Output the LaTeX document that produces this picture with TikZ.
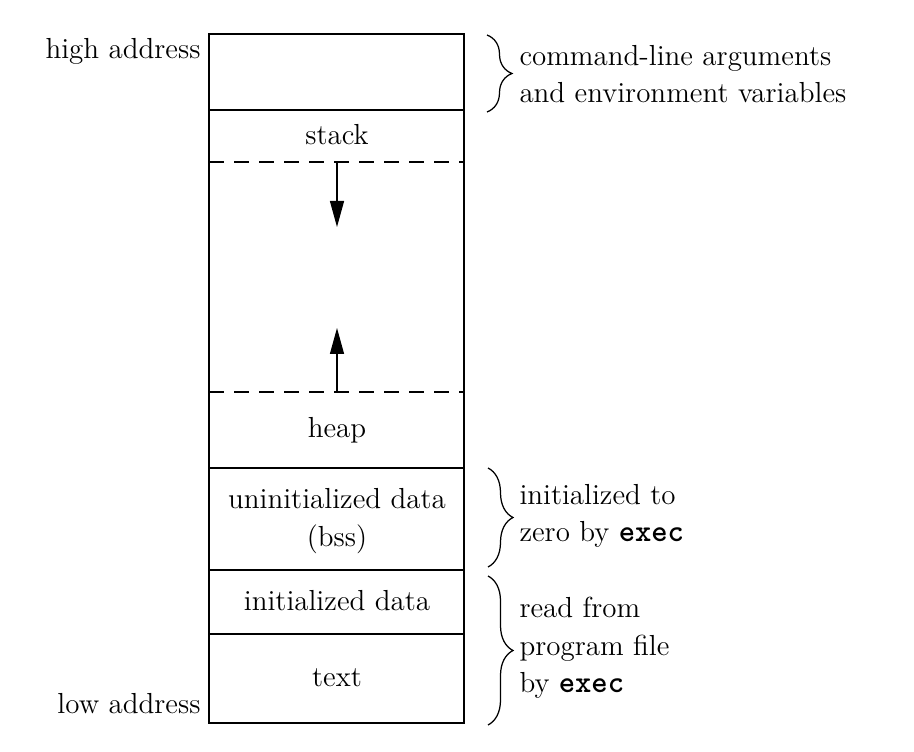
\documentclass[tikz,border=0pt]{standalone}
\usepackage{fontspec}
\newcommand\exe[1]{{\fontsize{12.4}{15}\ttfamily\bfseries #1}}
\usetikzlibrary{arrows.meta,decorations.pathreplacing}
\begin{document}
\begin{tikzpicture}[x=0.4pt,y=-0.4pt,
  every node/.style={font=\fontsize{11.6}{15}\selectfont, inner sep=0pt},
  frame/.style={line width=0.5pt},
  sepline/.style={line width=0.5pt, dash pattern=on 6pt off 4pt},
  growarrow/.style={line width=0.5pt, -{Triangle[length=10.4pt,width=5.6pt]}},
  brc/.style={decorate, decoration={brace, amplitude=10pt}, line width=0.5pt},
  seg/.style={align=center},
  note/.style={align=left, anchor=west},
  addr/.style={anchor=base east}]
\useasboundingbox (0,0) rectangle (914,752);
% frame and separators
\draw[frame] (209,34) rectangle (464,723);
\draw[frame] (209,110) -- (464,110);
\draw[frame] (209,468) -- (464,468);
\draw[frame] (209,570) -- (464,570);
\draw[frame] (209,634) -- (464,634);
\draw[sepline] (209,162) -- (464,162);
\draw[sepline] (209,392) -- (464,392);
% segment labels
\node[seg] (stack) at (337,135) {stack};
\node[seg] (heap) at (337,430) {heap};
\node[seg] (bss) at (337,521) {uninitialized data\\(bss)};
\node[seg] (idata) at (337,601) {initialized data};
\node[seg] (text) at (337,678) {text};
% growth arrows
\coordinate (s0) at (337,162);
\coordinate (s1) at (337,227);
\coordinate (h0) at (337,392);
\coordinate (h1) at (337,328);
\draw[growarrow] (s0) -- (s1);
\draw[growarrow] (h0) -- (h1);
% address labels
\node[addr] (high) at (201,59) {high address};
\node[addr] (low) at (201,713) {low address};
% braces
\coordinate (b1a) at (487,35);
\coordinate (b1b) at (487,112);
\coordinate (b2a) at (488,468);
\coordinate (b2b) at (488,567);
\coordinate (b3a) at (488,576);
\coordinate (b3b) at (488,725);
\draw[brc] (b1a) -- (b1b);
\draw[brc] (b2a) -- (b2b);
\draw[brc] (b3a) -- (b3b);
\node[note] (args) at (519,74) {command-line arguments\\and environment variables};
\node[note] (zero) at (519,516) {initialized to\\zero by \exe{exec}};
\node[note] (prog) at (519,648) {read from\\program file\\by \exe{exec}};
\end{tikzpicture}
\end{document}
